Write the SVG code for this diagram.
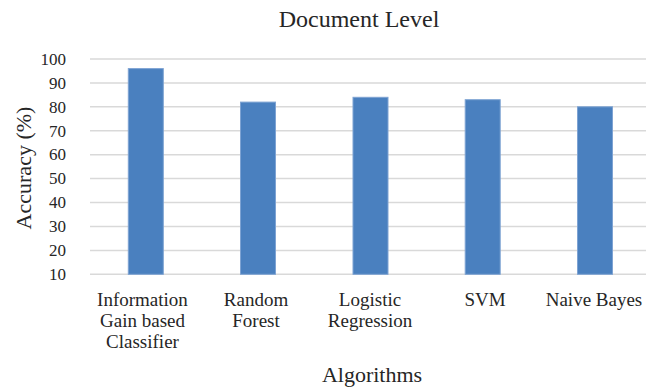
<svg xmlns="http://www.w3.org/2000/svg" width="646" height="391" viewBox="0 0 646 391">
<style>
text{font-family:"Liberation Serif","Times New Roman",serif;fill:#262626}
.grid line{stroke:#D9D9D9;stroke-width:1.5}
.bar{fill:#4A80BF;stroke:#7EA3D3;stroke-width:1}
.tick{font-size:17px;text-anchor:end}
.cat{font-size:19px;text-anchor:middle}
.title{font-size:24px;text-anchor:middle}
.axis{font-size:22px;text-anchor:middle}
</style>
<rect width="646" height="391" fill="#fff"/>
<text class="title" x="359" y="26.5">Document Level</text>
<g class="grid" id="gridlines">
<line x1="90" y1="59" x2="646" y2="59"/>
<line x1="90" y1="82.9" x2="646" y2="82.9"/>
<line x1="90" y1="106.8" x2="646" y2="106.8"/>
<line x1="90" y1="130.8" x2="646" y2="130.8"/>
<line x1="90" y1="154.7" x2="646" y2="154.7"/>
<line x1="90" y1="178.6" x2="646" y2="178.6"/>
<line x1="90" y1="202.5" x2="646" y2="202.5"/>
<line x1="90" y1="226.4" x2="646" y2="226.4"/>
<line x1="90" y1="250.4" x2="646" y2="250.4"/>
<line x1="90" y1="274.3" x2="646" y2="274.3"/>
</g>
<g id="yticks">
<text class="tick" x="66" y="64.7">100</text>
<text class="tick" x="66" y="88.6">90</text>
<text class="tick" x="66" y="112.5">80</text>
<text class="tick" x="66" y="136.5">70</text>
<text class="tick" x="66" y="160.4">60</text>
<text class="tick" x="66" y="184.3">50</text>
<text class="tick" x="66" y="208.2">40</text>
<text class="tick" x="66" y="232.1">30</text>
<text class="tick" x="66" y="256.1">20</text>
<text class="tick" x="66" y="280">10</text>
</g>
<g id="bar-igc"><rect class="bar" x="128.3" y="68.6" width="35" height="205.7"/></g>
<g id="bar-rf"><rect class="bar" x="240.5" y="102.1" width="35" height="172.2"/></g>
<g id="bar-lr"><rect class="bar" x="353" y="97.3" width="35" height="177"/></g>
<g id="bar-svm"><rect class="bar" x="465.2" y="99.7" width="35" height="174.6"/></g>
<g id="bar-nb"><rect class="bar" x="577.5" y="106.8" width="35" height="167.5"/></g>
<g id="xlabels">
<text class="cat" x="142.5" y="305.7">Information</text>
<text class="cat" x="142.5" y="327">Gain based</text>
<text class="cat" x="142.5" y="348.3">Classifier</text>
<text class="cat" x="256" y="305.7">Random</text>
<text class="cat" x="256" y="327">Forest</text>
<text class="cat" x="370" y="305.7">Logistic</text>
<text class="cat" x="370" y="327">Regression</text>
<text class="cat" x="485" y="305.7">SVM</text>
<text class="cat" x="594" y="305.7">Naive Bayes</text>
</g>
<text class="axis" x="372" y="381.7">Algorithms</text>
<text class="axis" transform="translate(31,168) rotate(-90)">Accuracy (%)</text>
</svg>
